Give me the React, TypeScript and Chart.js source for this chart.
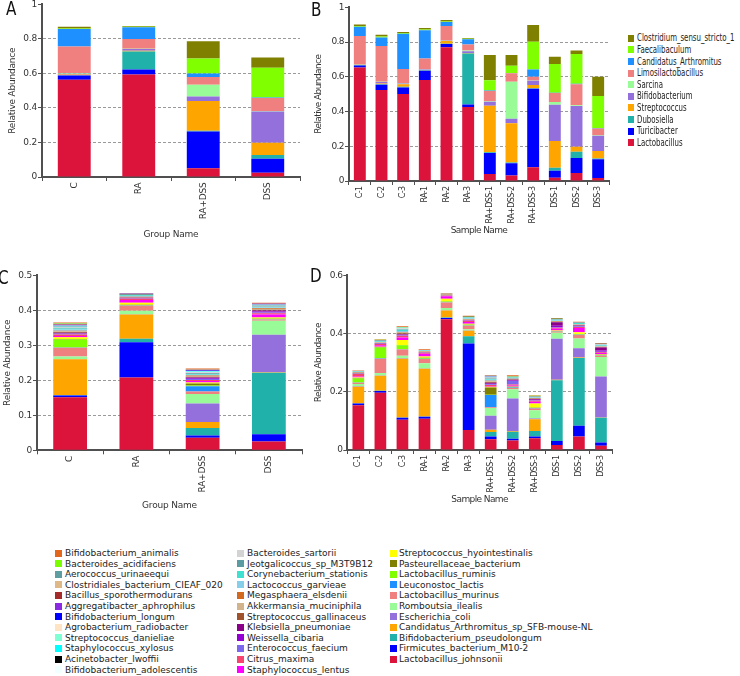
import React, { useEffect, useRef } from 'react';
import { Chart, registerables } from 'chart.js';

Chart.register(...registerables);

const FONT = "'DejaVu Sans', 'Liberation Sans', sans-serif";

// ---------- genus level (panels A, B), stack order bottom -> top ----------
const genusNames = [
  'Lactobacillus', 'Turicibacter', 'Dubosiella', 'Streptococcus', 'Bifidobacterium',
  'Sarcina', 'Limosilactobacillus', 'Candidatus_Arthromitus', 'Faecalibaculum', 'Clostridium_sensu_stricto_1',
];
const genusColors = [
  '#DC143C', '#0000FF', '#20B2AA', '#FFA500', '#9370DB',
  '#98FB98', '#F08080', '#1E90FF', '#7FFF00', '#808000',
];

const groupNames = ['C', 'RA', 'RA+DSS', 'DSS'];
const sampleNames = ['C-1', 'C-2', 'C-3', 'RA-1', 'RA-2', 'RA-3', 'RA+DSS-1', 'RA+DSS-2', 'RA+DSS-3', 'DSS-1', 'DSS-2', 'DSS-3'];

// one row per group, values in genus order
const genusGroupValues = [
  [0.563, 0.025, 0.002, 0.004, 0.004, 0.005, 0.153, 0.101, 0.003, 0.010],
  [0.594, 0.029, 0.104, 0.004, 0.010, 0.002, 0.056, 0.069, 0.002, 0.005],
  [0.050, 0.213, 0.005, 0.173, 0.025, 0.068, 0.046, 0.020, 0.087, 0.100],
  [0.025, 0.081, 0.022, 0.071, 0.180, 0.004, 0.075, 0.002, 0.173, 0.059],
];

// one row per sample, values in genus order
const genusSampleValues = [
  [0.654, 0.012, 0.002, 0.002, 0.001, 0.002, 0.162, 0.054, 0.004, 0.009],
  [0.524, 0.031, 0.003, 0.003, 0.009, 0.002, 0.205, 0.050, 0.005, 0.011],
  [0.501, 0.038, 0.004, 0.014, 0.005, 0.003, 0.080, 0.203, 0.004, 0.006],
  [0.582, 0.053, 0.003, 0.002, 0.002, 0.002, 0.062, 0.163, 0.004, 0.008],
  [0.770, 0.019, 0.002, 0.015, 0.002, 0.002, 0.083, 0.023, 0.003, 0.008],
  [0.426, 0.014, 0.295, 0.003, 0.010, 0.004, 0.035, 0.029, 0.004, 0.004],
  [0.040, 0.121, 0.005, 0.268, 0.023, 0.003, 0.058, 0.004, 0.058, 0.146],
  [0.031, 0.071, 0.005, 0.225, 0.027, 0.213, 0.048, 0.002, 0.042, 0.062],
  [0.079, 0.452, 0.003, 0.019, 0.024, 0.002, 0.021, 0.043, 0.159, 0.096],
  [0.019, 0.040, 0.018, 0.153, 0.209, 0.016, 0.052, 0.002, 0.165, 0.042],
  [0.046, 0.086, 0.037, 0.028, 0.235, 0.005, 0.121, 0.002, 0.171, 0.021],
  [0.017, 0.108, 0.005, 0.043, 0.088, 0.002, 0.040, 0.002, 0.184, 0.111],
];

// ---------- species level (panels C, D), stack order bottom -> top ----------
const speciesNames = [
  'Lactobacillus_johnsonii', 'Firmicutes_bacterium_M10-2', 'Bifidobacterium_pseudolongum',
  'Candidatus_Arthromitus_sp_SFB-mouse-NL', 'Escherichia_coli', 'Romboutsia_ilealis',
  'Lactobacillus_murinus', 'Leuconostoc_lactis', 'Lactobacillus_ruminis', 'Pasteurellaceae_bacterium',
  'Streptococcus_hyointestinalis', 'Staphylococcus_lentus', 'Citrus_maxima', 'Enterococcus_faecium',
  'Weissella_cibaria', 'Klebsiella_pneumoniae', 'Streptococcus_gallinaceus', 'Akkermansia_muciniphila',
  'Megasphaera_elsdenii', 'Lactococcus_garvieae', 'Corynebacterium_stationis', 'Jeotgalicoccus_sp_M3T9B12',
  'Bacteroides_sartorii', 'Bifidobacterium_adolescentis', 'Acinetobacter_lwoffii', 'Staphylococcus_xylosus',
  'Streptococcus_danieliae', 'Agrobacterium_radiobacter', 'Bifidobacterium_longum', 'Aggregatibacter_aphrophilus',
  'Bacillus_sporothermodurans', 'Clostridiales_bacterium_CIEAF_020', 'Aerococcus_urinaeequi',
  'Bacteroides_acidifaciens', 'Bifidobacterium_animalis',
];
const speciesColors = [
  '#DC143C', '#0000FF', '#20B2AA',
  '#FFA500', '#9370DB', '#98FB98',
  '#F08080', '#1E90FF', '#7FFF00', '#808000',
  '#FFFF00', '#FF00FF', '#F7456F', '#7B68EE',
  '#9400D3', '#8B008B', '#A0522D', '#D2B48C',
  '#D2691E', '#87CEEB', '#40E0D0', '#5A9AA0',
  '#D3D3D3', '#F0FFFF', '#000000', '#00FFFF',
  '#7FFFD4', '#FFE4C4', '#0000FF', '#8A2BE2',
  '#A52A2A', '#DEB887', '#5F9EA0',
  '#7CFC00', '#E2661D',
];

// one row per group, values in species order
const speciesGroupValues = [
  [0.152, 0.005, 0.001, 0.102, 0.001, 0.007, 0.025, 0.001, 0.023, 0.001, 0.005,
    0.004, 0.004, 0.002, 0.001, 0.002, 0.002, 0.002, 0.002, 0.003, 0.003, 0.002, 0.002, 0.001, 0.001, 0.001, 0.001, 0.001, 0.001, 0.001, 0.001, 0.001, 0.001, 0.001, 0.002],
  [0.208, 0.101, 0.010, 0.069, 0.001, 0.010, 0.014, 0.001, 0.001, 0.001, 0.006,
    0.008, 0.003, 0.001, 0.001, 0.001, 0.001, 0.001, 0.001, 0.002, 0.002, 0.001, 0.001, 0, 0.001, 0.001, 0, 0, 0, 0.001, 0, 0, 0, 0.001, 0.001],
  [0.036, 0.006, 0.022, 0.017, 0.053, 0.027, 0.007, 0.015, 0.002, 0.006, 0.003,
    0.004, 0.003, 0.003, 0.002, 0.002, 0.002, 0.002, 0.002, 0.002, 0.002, 0.002, 0.002, 0.001, 0.001, 0.001, 0.001, 0.001, 0.001, 0.001, 0.001, 0.001, 0.001, 0, 0.002],
  [0.025, 0.021, 0.176, 0.001, 0.107, 0.040, 0.004, 0.001, 0.001, 0.001, 0.003,
    0.008, 0.004, 0.002, 0.003, 0.003, 0.002, 0.002, 0.002, 0.002, 0.002, 0.001, 0.001, 0.001, 0.001, 0.001, 0.001, 0.001, 0.001, 0.001, 0.001, 0, 0, 0, 0.002],
];

// one row per sample, values in species order
const speciesSampleValues = [
  [0.154, 0.006, 0.001, 0.056, 0.002, 0.008, 0.004, 0.001, 0.014, 0.001, 0.002,
    0.004, 0.008, 0.001, 0, 0.001, 0.001, 0.001, 0.001, 0.002, 0.002, 0.001, 0.001, 0, 0, 0, 0, 0, 0, 0, 0, 0, 0, 0, 0.002],
  [0.197, 0.006, 0.001, 0.051, 0.001, 0.009, 0.049, 0.001, 0.037, 0.002, 0.001,
    0.005, 0.004, 0.001, 0.001, 0.001, 0.001, 0.001, 0.001, 0.002, 0.003, 0.001, 0.001, 0, 0.001, 0, 0, 0, 0, 0, 0, 0, 0, 0.001, 0.002],
  [0.104, 0.007, 0.001, 0.202, 0.001, 0.009, 0.021, 0.001, 0.014, 0.001, 0.017,
    0.009, 0.006, 0.002, 0.001, 0.002, 0.003, 0.002, 0.002, 0.004, 0.004, 0.002, 0.002, 0.001, 0.001, 0.001, 0.001, 0, 0, 0, 0, 0, 0, 0.001, 0.003],
  [0.107, 0.007, 0.001, 0.164, 0.001, 0.018, 0.015, 0.001, 0.002, 0.001, 0.004,
    0.010, 0.003, 0.001, 0, 0.001, 0.001, 0.001, 0.001, 0.002, 0.002, 0.001, 0, 0, 0, 0, 0, 0, 0, 0, 0, 0, 0, 0, 0.002],
  [0.449, 0.005, 0.001, 0.024, 0.001, 0.008, 0.019, 0.001, 0.002, 0.001, 0.009,
    0.008, 0.002, 0.001, 0, 0, 0.001, 0.001, 0.001, 0.001, 0.001, 0.001, 0, 0, 0, 0, 0, 0, 0, 0, 0, 0, 0, 0, 0.002],
  [0.069, 0.297, 0.025, 0.019, 0.001, 0.004, 0.012, 0.001, 0.002, 0.001, 0.003,
    0.006, 0.004, 0.001, 0.001, 0.001, 0.001, 0.001, 0.001, 0.002, 0.003, 0.001, 0.001, 0, 0.001, 0, 0, 0, 0, 0, 0, 0, 0, 0.001, 0.002],
  [0.037, 0.009, 0.016, 0.008, 0.048, 0.026, 0.003, 0.042, 0.001, 0.025, 0.002,
    0.003, 0.003, 0.003, 0.002, 0.003, 0.003, 0.002, 0.002, 0.003, 0.003, 0.002, 0.002, 0.001, 0.001, 0.001, 0.001, 0.001, 0.001, 0.001, 0, 0, 0, 0.001, 0.002],
  [0.033, 0.006, 0.024, 0.002, 0.112, 0.032, 0.004, 0.002, 0.001, 0.001, 0.001,
    0.004, 0.003, 0.012, 0.002, 0.002, 0.002, 0.001, 0.001, 0.002, 0.002, 0.001, 0.001, 0.001, 0.001, 0, 0, 0, 0, 0, 0, 0, 0, 0.001, 0.003],
  [0.040, 0.006, 0.019, 0.041, 0.002, 0.029, 0.006, 0.001, 0.001, 0.001, 0.014,
    0.006, 0.003, 0.002, 0.002, 0.002, 0.002, 0.001, 0.001, 0.002, 0.001, 0.001, 0.001, 0, 0.001, 0, 0, 0, 0, 0, 0, 0, 0, 0.001, 0.002],
  [0.017, 0.014, 0.209, 0.001, 0.141, 0.021, 0.003, 0.001, 0.001, 0.001, 0.002,
    0.006, 0.003, 0.003, 0.004, 0.012, 0.002, 0.001, 0.001, 0.002, 0.003, 0.001, 0.001, 0, 0.001, 0, 0, 0, 0, 0, 0, 0, 0, 0.001, 0.002],
  [0.046, 0.037, 0.233, 0.002, 0.032, 0.033, 0.012, 0.001, 0.001, 0.001, 0.007,
    0.014, 0.004, 0.002, 0.001, 0.002, 0.001, 0.001, 0.001, 0.002, 0.003, 0.001, 0.001, 0, 0.001, 0, 0, 0, 0, 0, 0, 0, 0, 0, 0.002],
  [0.015, 0.011, 0.085, 0.001, 0.141, 0.067, 0.004, 0.001, 0.001, 0.001, 0.002,
    0.004, 0.003, 0.002, 0.004, 0.010, 0.002, 0.001, 0.001, 0.002, 0.003, 0.001, 0.001, 0.001, 0.001, 0, 0, 0, 0, 0, 0, 0, 0, 0, 0.002],
];

const yTitle = 'Relative Abundance';

type PanelSpec = {
  left: number; top: number; width: number; height: number;
  padTop: number; padRight: number; yAxisW: number; xAxisH: number;
  yTitlePad: number; xTitlePad: number; xTickSize: number; spacing: string;
  labels: string[]; rows: number[][]; names: string[]; colors: string[];
  yMax: number; yStep: number; barPct: number; xTitle: string;
};

const panels: PanelSpec[] = [
  { left: 0, top: -2, width: 310, height: 247, padTop: 6, padRight: 10, yAxisW: 42, xAxisH: 68,
    yTitlePad: 7.6, xTitlePad: 4.6, xTickSize: 9, spacing: '-0.2px', labels: groupNames, rows: genusGroupValues, names: genusNames,
    colors: genusColors, yMax: 1, yStep: 0.2, barPct: 0.51, xTitle: 'Group Name' },
  { left: 300, top: 1, width: 315, height: 241, padTop: 6, padRight: 6, yAxisW: 49, xAxisH: 61,
    yTitlePad: 13.6, xTitlePad: 6.4, xTickSize: 8, spacing: '-0.6px', labels: sampleNames, rows: genusSampleValues, names: genusNames,
    colors: genusColors, yMax: 1, yStep: 0.2, barPct: 0.55, xTitle: 'Sample Name' },
  { left: 0, top: 268.7, width: 310, height: 246.3, padTop: 6, padRight: 8, yAxisW: 37, xAxisH: 64.7,
    yTitlePad: 2.6, xTitlePad: 3.9, xTickSize: 9, spacing: '-0.2px', labels: groupNames, rows: speciesGroupValues, names: speciesNames,
    colors: speciesColors, yMax: 0.5, yStep: 0.1, barPct: 0.51, xTitle: 'Group Name' },
  { left: 300, top: 268.7, width: 318, height: 241.3, padTop: 6, padRight: 6, yAxisW: 47.3, xAxisH: 60,
    yTitlePad: 13.6, xTitlePad: 5.4, xTickSize: 8, spacing: '-0.6px', labels: sampleNames, rows: speciesSampleValues, names: speciesNames,
    colors: speciesColors, yMax: 0.6, yStep: 0.2, barPct: 0.53, xTitle: 'Sample Name' },
];

const AXIS = '#505050';
const TEXT = '#333333';

function BarPanel({ spec }: { spec: PanelSpec }) {
  const ref = useRef<HTMLCanvasElement>(null);
  useEffect(() => {
    if (!ref.current) return;
    const datasets = spec.names.map((name, i) => ({
      label: name,
      data: spec.rows.map((r) => r[i] ?? 0),
      backgroundColor: spec.colors[i],
      borderWidth: 0,
      barPercentage: spec.barPct,
      categoryPercentage: 1,
    }));
    const spacingPlugin = {
      id: 'letterSpacing',
      beforeLayout: (c: any) => { c.ctx.letterSpacing = spec.spacing; },
      beforeDraw: (c: any) => { c.ctx.letterSpacing = spec.spacing; },
    };
    const chart = new Chart(ref.current, {
      type: 'bar',
      data: { labels: spec.labels, datasets },
      plugins: [spacingPlugin],
      options: {
        responsive: false,
        animation: false,
        layout: { padding: { top: spec.padTop, right: spec.padRight, left: 0, bottom: 0 } },
        plugins: { legend: { display: false }, tooltip: { enabled: false } },
        scales: {
          x: {
            stacked: true,
            offset: true,
            grid: { display: true, drawOnChartArea: false, drawTicks: true, tickLength: 4, color: AXIS, offset: true },
            border: { display: true, color: AXIS, width: 2 },
            ticks: {
              minRotation: 90, maxRotation: 90, autoSkip: false, padding: 1.5, color: TEXT,
              font: { family: FONT, size: spec.xTickSize },
            },
            title: {
              display: true, text: spec.xTitle, color: TEXT, font: { family: FONT, size: 9 },
              padding: { top: 0, bottom: spec.xTitlePad },
            },
            afterFit: (s: any) => { s.height = spec.xAxisH; },
          } as any,
          y: {
            stacked: true,
            min: 0,
            max: spec.yMax,
            ticks: {
              stepSize: spec.yStep, padding: 1, color: TEXT, font: { family: FONT, size: 9 },
              callback: (v: any) => String(Math.round(Number(v) * 10) / 10),
            },
            grid: {
              drawTicks: true, tickLength: 4, tickColor: AXIS,
              color: (c: any) => {
                const v = c.tick ? c.tick.value : 0;
                return v === 0 || Math.abs(v - spec.yMax) < 1e-9 ? 'rgba(0,0,0,0)' : '#9a9a9a';
              },
            },
            border: { display: true, color: AXIS, width: 2, dash: [3, 2] },
            title: {
              display: true, text: yTitle, color: TEXT, font: { family: FONT, size: 9 },
              padding: { top: spec.yTitlePad, bottom: 0 },
            },
            afterFit: (s: any) => { s.width = spec.yAxisW; },
          } as any,
        },
      },
    });
    return () => chart.destroy();
  }, [spec]);
  return (
    <canvas
      ref={ref}
      width={spec.width}
      height={spec.height}
      style={{ position: 'absolute', left: spec.left, top: spec.top, width: spec.width, height: spec.height }}
    />
  );
}

const panelLetters = [
  { text: 'A', x: 6, y: -1 },
  { text: 'B', x: 311, y: 0 },
  { text: 'C', x: -2, y: 268 },
  { text: 'D', x: 310, y: 266 },
];

function GenusLegend() {
  const items = genusNames.map((n, i) => ({ n, c: genusColors[i] })).reverse();
  return (
    <>
      {items.map((it, k) => {
        const cy = 38.3 + k * 11.6;
        return (
          <React.Fragment key={it.n}>
            <div style={{ position: 'absolute', left: 628, top: cy - 3.5, width: 6, height: 7, background: it.c }} />
            <div style={{
              position: 'absolute', left: 637, top: cy - 6, height: 12, lineHeight: '12px', fontSize: 10,
              fontFamily: FONT, color: '#222', whiteSpace: 'nowrap', transform: 'scaleX(0.7)', transformOrigin: 'left center',
            }}>{it.n}</div>
          </React.Fragment>
        );
      })}
    </>
  );
}

function SpeciesLegend() {
  const items = speciesNames.map((n, i) => ({ n, c: speciesColors[i] })).reverse();
  const colBox = [55, 237, 390];
  const colText = [65, 247, 399];
  return (
    <>
      {items.map((it, k) => {
        const col = Math.floor(k / 12);
        const row = k % 12;
        const cy = 553 + row * 10.6;
        return (
          <React.Fragment key={it.n}>
            <div style={{ position: 'absolute', left: colBox[col], top: cy - 3.5, width: 7, height: 7, background: it.c }} />
            <div style={{
              position: 'absolute', left: colText[col], top: cy - 6, height: 12, lineHeight: '12px', fontSize: 9,
              fontFamily: FONT, color: '#222', whiteSpace: 'nowrap',
            }}>{it.n}</div>
          </React.Fragment>
        );
      })}
    </>
  );
}

export default function App() {
  return (
    <div style={{ position: 'absolute', left: 0, top: 0, width: 740, height: 676, background: '#fff', overflow: 'hidden' }}>
      {panels.map((p, i) => <BarPanel key={i} spec={p} />)}
      {panelLetters.map((l) => (
        <div key={l.text} style={{
          position: 'absolute', left: l.x, top: l.y, fontFamily: FONT, fontSize: 19, lineHeight: '19px',
          color: '#111', transform: 'scaleX(0.8)', transformOrigin: 'left top',
        }}>{l.text}</div>
      ))}
      <GenusLegend />
      <SpeciesLegend />
    </div>
  );
}
